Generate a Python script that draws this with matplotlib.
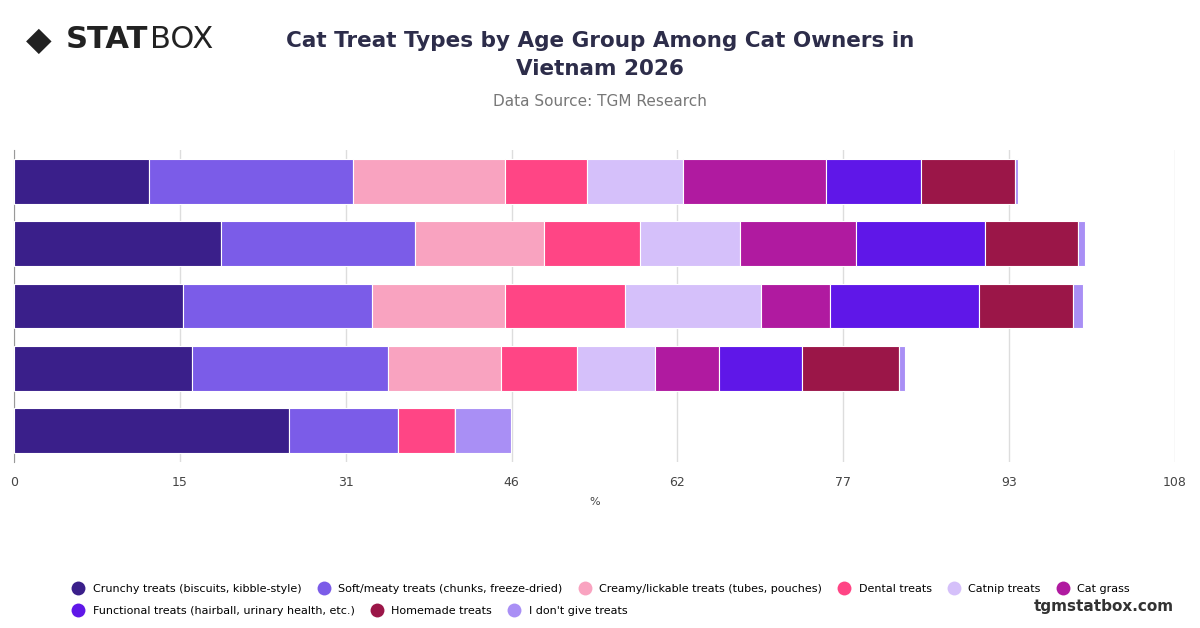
import matplotlib
matplotlib.use("Agg")
import matplotlib.pyplot as plt
import numpy as np

age_groups = ["18-24", "25-34", "35-44", "45-54", "55+"]
series_names = ["Crunchy treats (biscuits, kibble-style)", "Soft/meaty treats (chunks, freeze-dried)",
                "Creamy/lickable treats (tubes, pouches)", "Dental treats", "Catnip treats", "Cat grass",
                "Functional treats (hairball, urinary health, etc.)", "Homemade treats", "I don't give treats"]
crunchy = [12.6, 19.3, 15.7, 16.6, 25.6]
soft = [18.9, 18.0, 17.6, 18.2, 10.1]
creamy = [14.2, 12.0, 12.4, 10.5, 0]
dental = [7.6, 8.9, 11.1, 7.1, 5.3]
catnip = [8.9, 9.3, 12.7, 7.2, 0]
grass = [13.3, 10.8, 6.4, 6.0, 0]
functional = [8.9, 12.0, 13.9, 7.7, 0]
homemade = [8.7, 8.7, 8.7, 9.0, 0]
none = [0.3, 0.6, 0.9, 0.6, 5.2]
colors = ["#3a1f8a", "#7b5ce8", "#f9a3c0", "#ff4585", "#d5c0fa", "#b01aa0", "#5f17e8", "#9b1648", "#a98ff5"]
series = [crunchy, soft, creamy, dental, catnip, grass, functional, homemade, none]

fig = plt.figure(figsize=(12, 6.28), dpi=100)
ax = fig.add_axes([14/1200, 1-462/628, (1175-14)/1200, (462-150)/628])
y = np.arange(len(age_groups))
left = np.zeros(len(age_groups))
for vals, c in zip(series, colors):
    ax.barh(y, vals, left=left, color=c, height=0.72, edgecolor="white", linewidth=0.8, zorder=3)
    left += np.array(vals)
ax.set_ylim(len(age_groups)-0.5, -0.5)
ax.set_xlim(0, 108)
ticks = [108/7*i for i in range(8)]
ax.set_xticks(ticks)
ax.set_xticklabels([str(int(round(t))) for t in ticks], fontsize=9, color="#444")
ax.set_yticks([])
ax.grid(axis="x", color="#dddddd", linewidth=1, zorder=0)
for s in ["top", "right", "bottom"]:
    ax.spines[s].set_visible(False)
ax.spines["left"].set_color("#999")
ax.tick_params(axis="x", length=0, pad=10)
ax.set_xlabel("%", fontsize=8, color="#444", labelpad=6)

fig.text(0.5, 1-55/628, "Cat Treat Types by Age Group Among Cat Owners in\nVietnam 2026", ha="center", va="center",
         fontsize=15.5, fontweight="bold", color="#2d2d4a", linespacing=1.5)
fig.text(0.5, 1-101/628, "Data Source: TGM Research", ha="center", va="center", fontsize=11, color="#777")
fig.text(0.022, 1-40/628, "◆", fontsize=24, color="#222", va="center")
fig.text(0.055, 1-40/628, "STAT", fontsize=22, fontweight="bold", color="#222", va="center")
fig.text(0.125, 1-40/628, "BOX", fontsize=22, color="#222", va="center")
fig.text(0.978, 1-606/628, "tgmstatbox.com", ha="right", va="center", fontsize=11, fontweight="bold", color="#333")

handles = [plt.Line2D([], [], marker="o", ls="", markersize=10, markerfacecolor=c, markeredgecolor="none") for c in colors]
fig.legend(handles[:6], series_names[:6], loc="center left", bbox_to_anchor=(0.056, 1-589/628), ncol=6,
           frameon=False, fontsize=8, handletextpad=0.3, columnspacing=1.0, borderpad=0, borderaxespad=0)
fig.legend(handles[6:], series_names[6:], loc="center left", bbox_to_anchor=(0.056, 1-611/628), ncol=3,
           frameon=False, fontsize=8, handletextpad=0.3, columnspacing=1.0, borderpad=0, borderaxespad=0)
fig.savefig("out.png", dpi=100)
